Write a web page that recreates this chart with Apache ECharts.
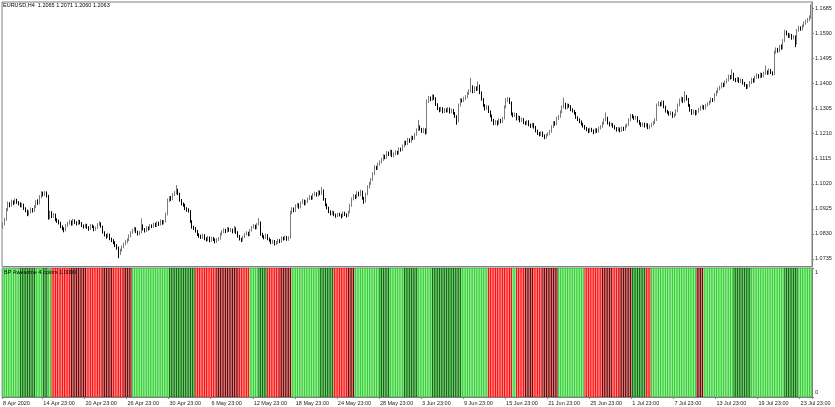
<!DOCTYPE html>
<html>
<head>
<meta charset="utf-8">
<script src="https://cdn.jsdelivr.net/npm/echarts@6/dist/echarts.min.js"></script>
<style>
html,body{margin:0;padding:0;background:#fff;}
#chart{width:835px;height:407px;}
</style>
</head>
<body>
<div id="chart"></div>
<script>
// ---- DATA (EURUSD H4) ----
const opens = [
1.0855,1.0868,1.0885,1.0921,1.0944,1.0938,1.0952,1.0946,1.0958,1.0949,1.0945,1.0937,1.0941,1.0926,1.0918,1.0905,1.0912,1.0924,1.0917,1.0933,1.0952,1.0946,1.0971,1.0986,
1.0979,1.0988,1.0975,1.0890,1.0912,1.0896,1.0903,1.0884,1.0879,1.0872,1.0858,1.0851,1.0845,1.0862,1.0870,1.0877,1.0866,1.0881,1.0874,1.0868,1.0879,1.0871,1.0862,1.0857,
1.0864,1.0855,1.0849,1.0862,1.0858,1.0846,1.0853,1.0866,1.0870,1.0858,1.0836,1.0826,1.0819,1.0828,1.0812,1.0806,1.0798,1.0786,1.0778,1.0761,1.0768,1.0781,1.0792,1.0799,
1.0808,1.0822,1.0835,1.0844,1.0851,1.0838,1.0830,1.0836,1.0862,1.0848,1.0841,1.0854,1.0849,1.0862,1.0858,1.0868,1.0861,1.0872,1.0866,1.0879,1.0870,1.0877,1.0905,1.0958,
1.0966,1.0962,1.0979,1.0985,1.0995,1.0982,1.0958,1.0944,1.0940,1.0926,1.0921,1.0917,1.0878,1.0856,1.0852,1.0841,1.0828,1.0822,1.0817,1.0825,1.0812,1.0808,1.0816,1.0805,
1.0813,1.0809,1.0801,1.0808,1.0812,1.0829,1.0838,1.0845,1.0839,1.0850,1.0843,1.0846,1.0838,1.0852,1.0836,1.0822,1.0811,1.0806,1.0818,1.0829,1.0834,1.0826,1.0843,1.0855,
1.0861,1.0852,1.0866,1.0874,1.0829,1.0821,1.0815,1.0826,1.0812,1.0806,1.0798,1.0803,1.0793,1.0797,1.0806,1.0801,1.0815,1.0811,1.0818,1.0809,1.0816,1.0911,1.0925,1.0918,
1.0936,1.0942,1.0931,1.0948,1.0956,1.0944,1.0952,1.0963,1.0971,1.0965,1.0978,1.0984,1.0977,1.0990,1.0983,1.0994,1.0962,1.0941,1.0929,1.0915,1.0907,1.0912,1.0903,1.0898,
1.0905,1.0902,1.0897,1.0910,1.0904,1.0899,1.0912,1.0938,1.0962,1.0975,1.0969,1.0986,1.0978,1.0990,1.0966,1.0952,1.0981,1.1008,1.1021,1.1036,1.1058,1.1083,1.1079,1.1094,
1.1103,1.1112,1.1126,1.1119,1.1138,1.1131,1.1144,1.1127,1.1133,1.1141,1.1136,1.1152,1.1148,1.1163,1.1178,1.1172,1.1188,1.1181,1.1197,1.1192,1.1207,1.1224,1.1236,1.1228,
1.1219,1.1226,1.1214,1.1332,1.1346,1.1339,1.1352,1.1344,1.1321,1.1305,1.1298,1.1306,1.1293,1.1301,1.1296,1.1305,1.1292,1.1299,1.1288,1.1276,1.1258,1.1318,1.1338,1.1335,
1.1344,1.1349,1.1362,1.1371,1.1388,1.1369,1.1384,1.1378,1.1392,1.1366,1.1341,1.1318,1.1305,1.1312,1.1294,1.1278,1.1262,1.1249,1.1256,1.1248,1.1262,1.1255,1.1268,1.1311,
1.1336,1.1342,1.1328,1.1285,1.1278,1.1284,1.1266,1.1273,1.1259,1.1265,1.1252,1.1248,1.1257,1.1244,1.1238,1.1246,1.1235,1.1221,1.1212,1.1207,1.1214,1.1203,1.1196,1.1205,
1.1209,1.1218,1.1236,1.1252,1.1246,1.1268,1.1275,1.1292,1.1311,1.1322,1.1308,1.1319,1.1314,1.1301,1.1296,1.1288,1.1272,1.1264,1.1256,1.1247,1.1239,1.1231,1.1226,1.1219,
1.1228,1.1222,1.1215,1.1226,1.1219,1.1231,1.1236,1.1249,1.1262,1.1270,1.1251,1.1243,1.1246,1.1238,1.1231,1.1224,1.1229,1.1221,1.1232,1.1226,1.1238,1.1243,1.1262,1.1279,
1.1274,1.1268,1.1272,1.1258,1.1249,1.1241,1.1247,1.1239,1.1245,1.1233,1.1238,1.1246,1.1252,1.1262,1.1318,1.1326,1.1319,1.1331,1.1312,1.1296,1.1291,1.1284,1.1289,1.1276,
1.1281,1.1296,1.1318,1.1337,1.1344,1.1332,1.1352,1.1341,1.1318,1.1299,1.1288,1.1296,1.1285,1.1294,1.1302,1.1309,1.1314,1.1306,1.1318,1.1323,1.1329,1.1341,1.1336,1.1357,
1.1368,1.1379,1.1386,1.1398,1.1392,1.1405,1.1413,1.1428,1.1421,1.1437,1.1416,1.1412,1.1419,1.1408,1.1413,1.1402,1.1394,1.1386,1.1391,1.1403,1.1416,1.1409,1.1424,1.1432,
1.1425,1.1436,1.1428,1.1438,1.1446,1.1439,1.1451,1.1442,1.1437,1.1519,1.1531,1.1524,1.1540,1.1535,1.1562,1.1597,1.1588,1.1579,1.1584,1.1572,1.1578,1.1553,1.1601,1.1612,
1.1606,1.1618,1.1629,1.1636,1.1642,1.1651
];
const closes = [
1.0868,1.0885,1.0921,1.0944,1.0938,1.0952,1.0946,1.0958,1.0949,1.0945,1.0937,1.0941,1.0926,1.0918,1.0905,1.0912,1.0924,1.0917,1.0933,1.0952,1.0946,1.0971,1.0986,1.0979,
1.0988,1.0975,1.0890,1.0912,1.0896,1.0903,1.0884,1.0879,1.0872,1.0858,1.0851,1.0845,1.0862,1.0870,1.0877,1.0866,1.0881,1.0874,1.0868,1.0879,1.0871,1.0862,1.0857,1.0864,
1.0855,1.0849,1.0862,1.0858,1.0846,1.0853,1.0866,1.0870,1.0858,1.0836,1.0826,1.0819,1.0828,1.0812,1.0806,1.0798,1.0786,1.0778,1.0761,1.0768,1.0781,1.0792,1.0799,1.0808,
1.0822,1.0835,1.0844,1.0851,1.0838,1.0830,1.0836,1.0862,1.0848,1.0841,1.0854,1.0849,1.0862,1.0858,1.0868,1.0861,1.0872,1.0866,1.0879,1.0870,1.0877,1.0905,1.0958,1.0966,
1.0962,1.0979,1.0985,1.0995,1.0982,1.0958,1.0944,1.0940,1.0926,1.0921,1.0917,1.0878,1.0856,1.0852,1.0841,1.0828,1.0822,1.0817,1.0825,1.0812,1.0808,1.0816,1.0805,1.0813,
1.0809,1.0801,1.0808,1.0812,1.0829,1.0838,1.0845,1.0839,1.0850,1.0843,1.0846,1.0838,1.0852,1.0836,1.0822,1.0811,1.0806,1.0818,1.0829,1.0834,1.0826,1.0843,1.0855,1.0861,
1.0852,1.0866,1.0874,1.0829,1.0821,1.0815,1.0826,1.0812,1.0806,1.0798,1.0803,1.0793,1.0797,1.0806,1.0801,1.0815,1.0811,1.0818,1.0809,1.0816,1.0911,1.0925,1.0918,1.0936,
1.0942,1.0931,1.0948,1.0956,1.0944,1.0952,1.0963,1.0971,1.0965,1.0978,1.0984,1.0977,1.0990,1.0983,1.0994,1.0962,1.0941,1.0929,1.0915,1.0907,1.0912,1.0903,1.0898,1.0905,
1.0902,1.0897,1.0910,1.0904,1.0899,1.0912,1.0938,1.0962,1.0975,1.0969,1.0986,1.0978,1.0990,1.0966,1.0952,1.0981,1.1008,1.1021,1.1036,1.1058,1.1083,1.1079,1.1094,1.1103,
1.1112,1.1126,1.1119,1.1138,1.1131,1.1144,1.1127,1.1133,1.1141,1.1136,1.1152,1.1148,1.1163,1.1178,1.1172,1.1188,1.1181,1.1197,1.1192,1.1207,1.1224,1.1236,1.1228,1.1219,
1.1226,1.1214,1.1332,1.1346,1.1339,1.1352,1.1344,1.1321,1.1305,1.1298,1.1306,1.1293,1.1301,1.1296,1.1305,1.1292,1.1299,1.1288,1.1276,1.1258,1.1318,1.1338,1.1335,1.1344,
1.1349,1.1362,1.1371,1.1388,1.1369,1.1384,1.1378,1.1392,1.1366,1.1341,1.1318,1.1305,1.1312,1.1294,1.1278,1.1262,1.1249,1.1256,1.1248,1.1262,1.1255,1.1268,1.1311,1.1336,
1.1342,1.1328,1.1285,1.1278,1.1284,1.1266,1.1273,1.1259,1.1265,1.1252,1.1248,1.1257,1.1244,1.1238,1.1246,1.1235,1.1221,1.1212,1.1207,1.1214,1.1203,1.1196,1.1205,1.1209,
1.1218,1.1236,1.1252,1.1246,1.1268,1.1275,1.1292,1.1311,1.1322,1.1308,1.1319,1.1314,1.1301,1.1296,1.1288,1.1272,1.1264,1.1256,1.1247,1.1239,1.1231,1.1226,1.1219,1.1228,
1.1222,1.1215,1.1226,1.1219,1.1231,1.1236,1.1249,1.1262,1.1270,1.1251,1.1243,1.1246,1.1238,1.1231,1.1224,1.1229,1.1221,1.1232,1.1226,1.1238,1.1243,1.1262,1.1279,1.1274,
1.1268,1.1272,1.1258,1.1249,1.1241,1.1247,1.1239,1.1245,1.1233,1.1238,1.1246,1.1252,1.1262,1.1318,1.1326,1.1319,1.1331,1.1312,1.1296,1.1291,1.1284,1.1289,1.1276,1.1281,
1.1296,1.1318,1.1337,1.1344,1.1332,1.1352,1.1341,1.1318,1.1299,1.1288,1.1296,1.1285,1.1294,1.1302,1.1309,1.1314,1.1306,1.1318,1.1323,1.1329,1.1341,1.1336,1.1357,1.1368,
1.1379,1.1386,1.1398,1.1392,1.1405,1.1413,1.1428,1.1421,1.1437,1.1416,1.1412,1.1419,1.1408,1.1413,1.1402,1.1394,1.1386,1.1391,1.1403,1.1416,1.1409,1.1424,1.1432,1.1425,
1.1436,1.1428,1.1438,1.1446,1.1439,1.1451,1.1442,1.1437,1.1519,1.1531,1.1524,1.1540,1.1535,1.1562,1.1597,1.1588,1.1579,1.1584,1.1572,1.1578,1.1553,1.1601,1.1612,1.1606,
1.1618,1.1629,1.1636,1.1642,1.1651,1.1680
];
const highs = [
1.0874,1.0891,1.0928,1.0953,1.0950,1.0960,1.0957,1.0965,1.0963,1.0954,1.0950,1.0947,1.0945,1.0931,1.0922,1.0919,1.0930,1.0928,1.0939,1.0958,1.0961,1.0977,1.0992,1.0990,
1.0993,1.0991,1.0978,1.0919,1.0916,1.0909,1.0907,1.0889,1.0884,1.0876,1.0862,1.0855,1.0867,1.0876,1.0884,1.0881,1.0887,1.0885,1.0878,1.0884,1.0883,1.0875,1.0866,1.0869,
1.0868,1.0859,1.0867,1.0866,1.0861,1.0858,1.0871,1.0878,1.0874,1.0861,1.0840,1.0830,1.0834,1.0831,1.0816,1.0810,1.0802,1.0791,1.0782,1.0774,1.0786,1.0797,1.0806,1.0813,
1.0828,1.0840,1.0850,1.0857,1.0855,1.0842,1.0841,1.0889,1.0866,1.0852,1.0859,1.0858,1.0867,1.0866,1.0873,1.0872,1.0878,1.0876,1.0885,1.0883,1.0883,1.0911,1.0964,1.0973,
1.0974,1.0985,1.0992,1.1015,1.1001,1.0986,1.0962,1.0949,1.0944,1.0931,1.0927,1.0920,1.0882,1.0861,1.0856,1.0845,1.0832,1.0827,1.0831,1.0829,1.0817,1.0822,1.0820,1.0819,
1.0818,1.0813,1.0814,1.0818,1.0835,1.0844,1.0851,1.0849,1.0856,1.0854,1.0852,1.0850,1.0860,1.0855,1.0840,1.0826,1.0815,1.0823,1.0834,1.0840,1.0838,1.0848,1.0860,1.0867,
1.0865,1.0871,1.0890,1.0877,1.0834,1.0825,1.0831,1.0829,1.0816,1.0810,1.0808,1.0807,1.0803,1.0811,1.0810,1.0820,1.0819,1.0823,1.0822,1.0821,1.0917,1.0931,1.0930,1.0942,
1.0948,1.0946,1.0953,1.0962,1.0960,1.0958,1.0968,1.0977,1.0975,1.0984,1.0990,1.0988,1.0996,1.0994,1.1008,1.0998,1.0966,1.0945,1.0933,1.0919,1.0918,1.0916,1.0907,1.0910,
1.0910,1.0906,1.0915,1.0914,1.0908,1.0918,1.0944,1.0968,1.0981,1.0979,1.0992,1.0990,1.0997,1.0994,1.0970,1.0986,1.1014,1.1027,1.1042,1.1064,1.1090,1.1088,1.1100,1.1109,
1.1118,1.1132,1.1130,1.1144,1.1142,1.1150,1.1148,1.1139,1.1147,1.1145,1.1158,1.1157,1.1169,1.1184,1.1183,1.1194,1.1192,1.1203,1.1201,1.1213,1.1230,1.1262,1.1241,1.1232,
1.1232,1.1230,1.1340,1.1353,1.1351,1.1359,1.1358,1.1348,1.1325,1.1310,1.1312,1.1310,1.1307,1.1306,1.1311,1.1309,1.1305,1.1303,1.1292,1.1280,1.1324,1.1345,1.1343,1.1350,
1.1356,1.1368,1.1378,1.1422,1.1393,1.1390,1.1389,1.1408,1.1396,1.1370,1.1345,1.1322,1.1318,1.1316,1.1298,1.1282,1.1266,1.1262,1.1260,1.1268,1.1266,1.1274,1.1317,1.1345,
1.1348,1.1346,1.1332,1.1290,1.1290,1.1288,1.1279,1.1277,1.1271,1.1269,1.1257,1.1262,1.1261,1.1248,1.1251,1.1250,1.1239,1.1225,1.1216,1.1219,1.1218,1.1207,1.1210,1.1215,
1.1224,1.1242,1.1258,1.1257,1.1274,1.1281,1.1298,1.1317,1.1347,1.1327,1.1325,1.1323,1.1318,1.1306,1.1300,1.1292,1.1276,1.1268,1.1260,1.1251,1.1243,1.1235,1.1230,1.1233,
1.1232,1.1226,1.1231,1.1230,1.1236,1.1242,1.1255,1.1268,1.1290,1.1274,1.1255,1.1252,1.1250,1.1242,1.1235,1.1235,1.1233,1.1237,1.1236,1.1244,1.1249,1.1268,1.1285,1.1284,
1.1278,1.1278,1.1276,1.1262,1.1253,1.1253,1.1251,1.1250,1.1249,1.1244,1.1251,1.1258,1.1268,1.1324,1.1333,1.1330,1.1337,1.1335,1.1316,1.1300,1.1295,1.1295,1.1293,1.1287,
1.1302,1.1324,1.1343,1.1350,1.1348,1.1370,1.1356,1.1345,1.1322,1.1303,1.1301,1.1300,1.1299,1.1308,1.1315,1.1320,1.1318,1.1323,1.1329,1.1335,1.1347,1.1345,1.1363,1.1374,
1.1385,1.1392,1.1404,1.1403,1.1411,1.1419,1.1434,1.1432,1.1454,1.1441,1.1421,1.1425,1.1423,1.1419,1.1417,1.1406,1.1398,1.1397,1.1409,1.1422,1.1420,1.1430,1.1438,1.1436,
1.1442,1.1440,1.1444,1.1468,1.1450,1.1457,1.1455,1.1446,1.1525,1.1537,1.1535,1.1546,1.1548,1.1568,1.1604,1.1601,1.1592,1.1590,1.1588,1.1584,1.1582,1.1607,1.1619,1.1617,
1.1624,1.1635,1.1642,1.1648,1.1658,1.1700
];
const lows = [
1.0849,1.0862,1.0880,1.0916,1.0931,1.0933,1.0940,1.0942,1.0944,1.0938,1.0931,1.0930,1.0921,1.0912,1.0897,1.0899,1.0908,1.0911,1.0913,1.0928,1.0940,1.0942,1.0965,1.0972,
1.0974,1.0968,1.0884,1.0885,1.0890,1.0891,1.0878,1.0872,1.0866,1.0852,1.0844,1.0836,1.0840,1.0857,1.0865,1.0861,1.0862,1.0868,1.0862,1.0864,1.0866,1.0856,1.0850,1.0852,
1.0849,1.0842,1.0845,1.0852,1.0840,1.0842,1.0849,1.0861,1.0853,1.0831,1.0820,1.0812,1.0815,1.0806,1.0799,1.0791,1.0780,1.0770,1.0738,1.0750,1.0763,1.0776,1.0787,1.0794,
1.0803,1.0817,1.0830,1.0839,1.0833,1.0824,1.0825,1.0832,1.0843,1.0835,1.0837,1.0843,1.0845,1.0852,1.0853,1.0856,1.0857,1.0860,1.0862,1.0865,1.0866,1.0873,1.0900,1.0951,
1.0955,1.0958,1.0973,1.0980,1.0977,1.0952,1.0938,1.0933,1.0920,1.0914,1.0911,1.0872,1.0850,1.0845,1.0835,1.0822,1.0815,1.0811,1.0812,1.0806,1.0801,1.0803,1.0798,1.0800,
1.0803,1.0794,1.0796,1.0803,1.0808,1.0824,1.0833,1.0833,1.0835,1.0838,1.0837,1.0832,1.0834,1.0830,1.0816,1.0805,1.0799,1.0802,1.0814,1.0824,1.0821,1.0822,1.0839,1.0850,
1.0847,1.0848,1.0862,1.0823,1.0815,1.0809,1.0811,1.0806,1.0800,1.0791,1.0792,1.0786,1.0788,1.0792,1.0795,1.0797,1.0805,1.0806,1.0804,1.0804,1.0812,1.0905,1.0912,1.0913,
1.0930,1.0925,1.0927,1.0943,1.0938,1.0939,1.0947,1.0958,1.0959,1.0960,1.0973,1.0971,1.0972,1.0977,1.0978,1.0956,1.0935,1.0923,1.0909,1.0900,1.0902,1.0897,1.0891,1.0893,
1.0896,1.0889,1.0893,1.0898,1.0892,1.0895,1.0908,1.0933,1.0957,1.0962,1.0964,1.0972,1.0973,1.0960,1.0944,1.0948,1.0976,1.1002,1.1016,1.1031,1.1053,1.1072,1.1074,1.1088,
1.1097,1.1107,1.1113,1.1115,1.1125,1.1126,1.1121,1.1120,1.1128,1.1130,1.1131,1.1142,1.1144,1.1158,1.1166,1.1167,1.1175,1.1176,1.1186,1.1187,1.1202,1.1219,1.1222,1.1213,
1.1212,1.1207,1.1209,1.1326,1.1333,1.1334,1.1338,1.1315,1.1299,1.1291,1.1293,1.1287,1.1288,1.1290,1.1291,1.1286,1.1287,1.1282,1.1270,1.1244,1.1253,1.1313,1.1328,1.1330,
1.1338,1.1344,1.1357,1.1366,1.1363,1.1364,1.1372,1.1373,1.1360,1.1335,1.1312,1.1298,1.1300,1.1288,1.1272,1.1256,1.1242,1.1243,1.1241,1.1244,1.1249,1.1250,1.1264,1.1306,
1.1330,1.1322,1.1279,1.1272,1.1273,1.1260,1.1261,1.1253,1.1254,1.1246,1.1242,1.1243,1.1238,1.1232,1.1233,1.1229,1.1215,1.1205,1.1200,1.1202,1.1197,1.1189,1.1191,1.1200,
1.1204,1.1213,1.1231,1.1240,1.1242,1.1262,1.1270,1.1287,1.1306,1.1302,1.1303,1.1308,1.1295,1.1290,1.1282,1.1266,1.1258,1.1250,1.1241,1.1233,1.1225,1.1219,1.1212,1.1214,
1.1216,1.1208,1.1211,1.1213,1.1214,1.1226,1.1232,1.1244,1.1257,1.1245,1.1237,1.1238,1.1232,1.1225,1.1218,1.1219,1.1215,1.1217,1.1220,1.1222,1.1233,1.1239,1.1257,1.1268,
1.1262,1.1263,1.1252,1.1243,1.1235,1.1236,1.1233,1.1234,1.1227,1.1228,1.1234,1.1241,1.1247,1.1258,1.1313,1.1313,1.1314,1.1306,1.1290,1.1285,1.1278,1.1279,1.1270,1.1271,
1.1277,1.1291,1.1313,1.1331,1.1326,1.1328,1.1335,1.1312,1.1293,1.1281,1.1283,1.1279,1.1281,1.1289,1.1297,1.1304,1.1300,1.1302,1.1313,1.1318,1.1325,1.1330,1.1332,1.1352,
1.1363,1.1374,1.1381,1.1386,1.1388,1.1400,1.1408,1.1415,1.1417,1.1410,1.1405,1.1406,1.1402,1.1402,1.1396,1.1388,1.1379,1.1380,1.1386,1.1398,1.1403,1.1404,1.1419,1.1419,
1.1420,1.1422,1.1423,1.1433,1.1433,1.1434,1.1436,1.1430,1.1432,1.1513,1.1517,1.1519,1.1528,1.1530,1.1557,1.1582,1.1573,1.1572,1.1566,1.1567,1.1538,1.1548,1.1596,1.1600,
1.1601,1.1613,1.1623,1.1630,1.1637,1.1646
];
// Indicator colour state per bar, as runs: L=lime, G=green, R=red, M=maroon
const aoColorRuns = [
['L',10],['G',9],['L',4],['G',3],['L',2],['R',11],['M',9],['R',9],['M',6],['R',6],['M',5],
['L',21],['G',15],['R',12],['M',13],['R',6],['L',5],['G',5],['R',7],['M',7],['L',16],['G',8],
['R',8],['M',4],['L',14],['G',6],['L',8],['G',8],['L',8],['G',17],['L',15],['R',14],['L',2],
['R',5],['M',5],['R',5],['M',9],['L',15],['R',10],['M',6],['R',4],['M',7],['G',8],['R',3],
['L',26],['M',4],['L',17],['G',10],['L',19],['G',8],['L',8]
];
const aoValue = 1;
const priceTicks = [1.0735,1.0830,1.0925,1.1020,1.1115,1.1210,1.1305,1.1400,1.1495,1.1590,1.1685];
const dateLabels = ['8 Apr 2020','14 Apr 23:00','20 Apr 23:00','26 Apr 23:00','30 Apr 23:00','6 May 23:00','12 May 23:00','18 May 23:00','24 May 23:00','28 May 23:00','3 Jun 23:00','9 Jun 23:00','15 Jun 23:00','21 Jun 23:00','25 Jun 23:00','1 Jul 23:00','7 Jul 23:00','13 Jul 23:00','19 Jul 23:00','23 Jul 23:00'];
const dateLabelBars = [0,23,47,71,95,119,143,167,191,215,239,263,287,311,335,359,383,407,431,455];
const titleText = 'EURUSD,H4  1.2065 1.2071 1.2060 1.2063';
const indicatorText = 'BP Awesome 4 colors 1.0000';

// ---- BUILD ----
const categories = closes.map((_, i) => String(i));
const labelMap = {};
dateLabelBars.forEach((b, k) => { labelMap[b] = dateLabels[k]; });
const candleData = closes.map((c, i) => [opens[i], c, lows[i], highs[i]]);
const palette = { L: '#32d232', G: '#007800', R: '#ff1010', M: '#800000' };
const codes = [];
aoColorRuns.forEach(([c, n]) => { for (let k = 0; k < n; k++) codes.push(c); });
const histData = codes.map(c => ({ value: aoValue, itemStyle: { color: palette[c] } }));

const FONT = 'Liberation Sans';
const fs = 5.5;
const chart = echarts.init(document.getElementById('chart'), null, { renderer: 'canvas' });
chart.setOption({
  animation: false,
  backgroundColor: '#ffffff',
  title: [
    { text: titleText, left: 3, top: 2, padding: 0,
      textStyle: { fontFamily: FONT, fontSize: fs, fontWeight: 'normal', color: '#000' } },
    { text: indicatorText, left: 4, top: 269, padding: 0,
      textStyle: { fontFamily: FONT, fontSize: fs, fontWeight: 'normal', color: '#000' } }
  ],
  grid: [
    { left: 2, top: 2, width: 810, height: 264.5, show: true, borderColor: '#808080', borderWidth: 1, backgroundColor: '#fff' },
    { left: 2, top: 268, width: 810, height: 129, show: true, borderColor: '#808080', borderWidth: 1, backgroundColor: '#fff' }
  ],
  xAxis: [
    { type: 'category', gridIndex: 0, data: categories, boundaryGap: true, show: false },
    { type: 'category', gridIndex: 1, data: categories, boundaryGap: true,
      axisLine: { show: true, lineStyle: { color: '#808080', width: 1 } },
      axisTick: { show: true, length: 2, interval: (i) => labelMap[i] !== undefined, lineStyle: { color: '#808080' } },
      axisLabel: { show: true, interval: (i) => labelMap[i] !== undefined,
        formatter: (v, i) => labelMap[i] || '', align: 'left', margin: 3,
        fontFamily: FONT, fontSize: fs, color: '#222' },
      splitLine: { show: false } }
  ],
  yAxis: [
    { type: 'value', gridIndex: 0, position: 'right', min: 1.07064, max: 1.17090, scale: true,
      axisLine: { show: true, lineStyle: { color: '#808080' } },
      axisTick: { show: true, length: 2, customValues: priceTicks, lineStyle: { color: '#808080' } },
      axisLabel: { show: true, customValues: priceTicks, formatter: (v) => v.toFixed(4), margin: 3,
        fontFamily: FONT, fontSize: fs, color: '#222' },
      splitLine: { show: false } },
    { type: 'value', gridIndex: 1, position: 'right', min: 0, max: 1,
      axisLine: { show: true, lineStyle: { color: '#808080' } },
      axisTick: { show: true, length: 2, customValues: [0, 1], lineStyle: { color: '#808080' } },
      axisLabel: { show: true, customValues: [0, 1], margin: 3,
        formatter: (v) => v === 1 ? '{t|1}' : '{b|0}',
        rich: { t: { padding: [9, 0, 0, 0], fontSize: fs, fontFamily: FONT, color: '#222' },
                b: { padding: [0, 0, 9, 0], fontSize: fs, fontFamily: FONT, color: '#222' } },
        fontFamily: FONT, fontSize: fs, color: '#222' },
      splitLine: { show: false } }
  ],
  series: [
    { type: 'candlestick', xAxisIndex: 0, yAxisIndex: 0, data: candleData, barWidth: 1,
      itemStyle: { color: '#7a7a7a', color0: '#000000', borderColor: '#7a7a7a', borderColor0: '#000000', borderWidth: 1 } },
    { type: 'bar', xAxisIndex: 1, yAxisIndex: 1, data: histData, barWidth: 1.3, barGap: '0%' }
  ]
});
</script>
</body>
</html>
